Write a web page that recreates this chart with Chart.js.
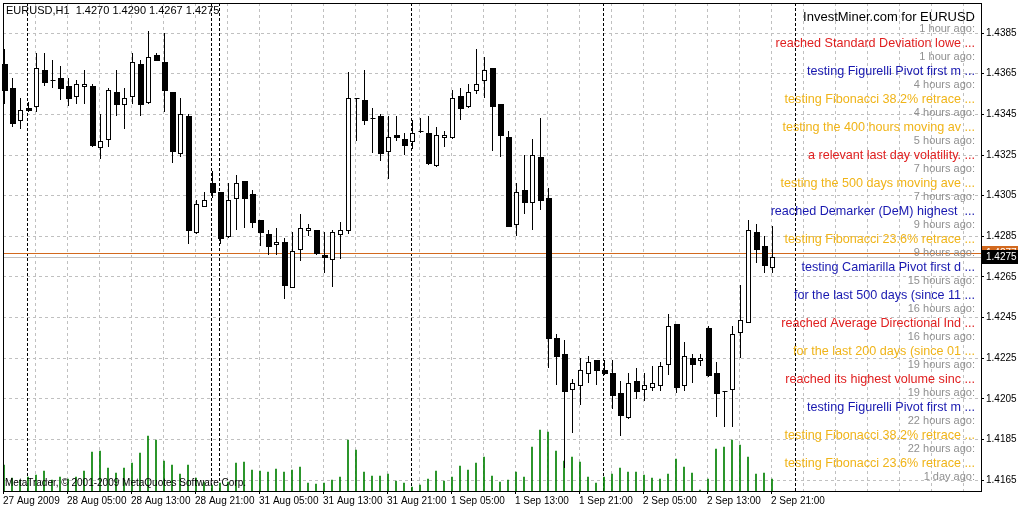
<!DOCTYPE html>
<html>
<head>
<meta charset="utf-8">
<script src="https://cdn.jsdelivr.net/npm/chart.js@4"></script>
<style>
  html, body { margin: 0; padding: 0; background: #fff; }
  #wrap { width: 1018px; height: 508px; }
</style>
</head>
<body>
<div id="wrap"><canvas id="chart"></canvas></div>
<script>
// EURUSD H1, 97 bars starting 27 Aug 2009 21:00
const opens  = [1.4370,1.4358,1.4342,1.4348,1.4349,1.4367,1.4362,1.4363,1.4359,1.4354,1.4359,1.4359,1.4329,1.4333,1.4356,1.4350,1.4354,1.4370,1.4351,1.4374,1.4371,1.4356,1.4326,1.4344,1.4287,1.4300,1.4311,1.4307,1.4285,1.4304,1.4312,1.4306,1.4293,1.4286,1.4281,1.4282,1.4260,1.4279,1.4288,1.4288,1.4276,1.4274,1.4286,1.4288,1.4353,1.4352,1.4343,1.4344,1.4327,1.4335,1.4333,1.4332,1.4337,1.4336,1.4320,1.4334,1.4334,1.4354,1.4349,1.4357,1.4362,1.4368,1.4350,1.4334,1.4291,1.4308,1.4302,1.4324,1.4304,1.4235,1.4227,1.4210,1.4212,1.4218,1.4224,1.4219,1.4218,1.4208,1.4196,1.4214,1.4210,1.4211,1.4212,1.4222,1.4242,1.4212,1.4225,1.4224,1.4240,1.4218,1.4209,1.4210,1.4238,1.4243,1.4287,1.4280,1.4270];
const highs  = [1.4377,1.4363,1.4353,1.4351,1.4375,1.4375,1.4372,1.4369,1.4363,1.4362,1.4367,1.4360,1.4345,1.4358,1.4367,1.4358,1.4375,1.4372,1.4386,1.4375,1.4385,1.4356,1.4353,1.4345,1.4303,1.4307,1.4317,1.4307,1.4311,1.4315,1.4312,1.4308,1.4293,1.4288,1.4289,1.4284,1.4287,1.4296,1.4291,1.4288,1.4287,1.4288,1.4292,1.4366,1.4353,1.4367,1.4348,1.4345,1.4344,1.4344,1.4336,1.4342,1.4343,1.4344,1.4339,1.4337,1.4357,1.4358,1.4360,1.4377,1.4373,1.4368,1.4350,1.4337,1.4311,1.4325,1.4333,1.4343,1.4309,1.4237,1.4234,1.4215,1.4225,1.4226,1.4224,1.4224,1.4224,1.4214,1.4218,1.4220,1.4218,1.4221,1.4223,1.4247,1.4242,1.4233,1.4227,1.4227,1.4241,1.4223,1.4209,1.4241,1.4261,1.4293,1.4291,1.4285,1.4290];
const lows   = [1.4350,1.4339,1.4338,1.4346,1.4346,1.4359,1.4358,1.4352,1.4349,1.4350,1.4350,1.4329,1.4323,1.4329,1.4344,1.4338,1.4350,1.4344,1.4350,1.4372,1.4346,1.4321,1.4324,1.4281,1.4286,1.4300,1.4304,1.4281,1.4284,1.4288,1.4289,1.4289,1.4280,1.4276,1.4276,1.4254,1.4260,1.4273,1.4285,1.4276,1.4267,1.4260,1.4274,1.4286,1.4332,1.4340,1.4326,1.4322,1.4313,1.4332,1.4325,1.4328,1.4336,1.4320,1.4319,1.4329,1.4333,1.4342,1.4348,1.4355,1.4353,1.4327,1.4324,1.4290,1.4285,1.4296,1.4288,1.4298,1.4220,1.4212,1.4171,1.4188,1.4202,1.4213,1.4212,1.4217,1.4200,1.4187,1.4195,1.4205,1.4204,1.4209,1.4209,1.4217,1.4208,1.4209,1.4213,1.4221,1.4216,1.4196,1.4191,1.4191,1.4225,1.4243,1.4272,1.4267,1.4267];
const closes = [1.4357,1.4341,1.4347,1.4347,1.4368,1.4361,1.4362,1.4358,1.4353,1.4360,1.4360,1.4330,1.4332,1.4357,1.4350,1.4353,1.4371,1.4350,1.4373,1.4372,1.4357,1.4327,1.4345,1.4288,1.4301,1.4303,1.4307,1.4284,1.4303,1.4311,1.4304,1.4292,1.4287,1.4280,1.4282,1.4261,1.4278,1.4289,1.4289,1.4277,1.4275,1.4287,1.4288,1.4353,1.4353,1.4342,1.4343,1.4326,1.4334,1.4334,1.4330,1.4336,1.4337,1.4321,1.4335,1.4335,1.4353,1.4348,1.4356,1.4360,1.4367,1.4349,1.4335,1.4290,1.4307,1.4302,1.4325,1.4303,1.4235,1.4226,1.4209,1.4213,1.4219,1.4223,1.4219,1.4218,1.4207,1.4197,1.4213,1.4209,1.4212,1.4213,1.4221,1.4241,1.4211,1.4226,1.4222,1.4225,1.4217,1.4208,1.4209,1.4237,1.4244,1.4288,1.4279,1.4271,1.4275];
const volumes = [260,130,110,140,160,200,110,140,120,140,200,390,400,230,180,230,280,380,550,510,300,260,170,260,130,90,60,80,90,280,290,210,200,190,220,190,210,240,80,70,80,110,140,510,410,190,150,150,170,
                 100,80,40,60,120,200,100,140,250,210,280,340,150,90,110,190,140,440,610,590,400,300,340,290,140,80,140,170,230,190,190,160,130,120,170,320,240,180,10,120,420,440,510,460,340,170,180,120];
const timeLabels = {0:'27 Aug 2009',8:'28 Aug 05:00',16:'28 Aug 13:00',24:'28 Aug 21:00',32:'31 Aug 05:00',40:'31 Aug 13:00',48:'31 Aug 21:00',56:'1 Sep 05:00',64:'1 Sep 13:00',72:'1 Sep 21:00',80:'2 Sep 05:00',88:'2 Sep 13:00',96:'2 Sep 21:00'};
const daySeparators = [3, 26, 27, 51, 75, 99];
const priceTicks = [1.4165,1.4185,1.4205,1.4225,1.4245,1.4265,1.4285,1.4305,1.4325,1.4345,1.4365,1.4385];
const askPrice = 1.4277;
const bidPrice = 1.4275;

const newsAgo = ['1 hour ago:','1 hour ago:','4 hours ago:','4 hours ago:','5 hours ago:','7 hours ago:','7 hours ago:','9 hours ago:','9 hours ago:','15 hours ago:','16 hours ago:','16 hours ago:','19 hours ago:','19 hours ago:','22 hours ago:','22 hours ago:','1 day ago:'];
const newsText = ['reached Standard Deviation lowe ...','testing Figurelli Pivot first m ...','testing Fibonacci 38.2% retrace ...','testing the 400 hours moving av ...','a relevant last day volatility. ...','testing the 500 days moving ave ...','reached Demarker (DeM) highest  ...','testing Fibonacci 23.6% retrace ...','testing Camarilla Pivot first d ...','for the last 500 days (since 11 ...','reached Average Directional Ind ...','for the last 200 days (since 01 ...','reached its highest volume sinc ...','testing Figurelli Pivot first m ...','testing Fibonacci 38.2% retrace ...','testing Fibonacci 23.6% retrace ...','a possible market cycle when ...'];
const newsKind = ['red','blue','gold','gold','red','gold','blue','gold','blue','blue','red','gold','red','blue','gold','gold','gold'];
const kindColor = { red: '#e02020', blue: '#1818b0', gold: '#f0b418' };

// candles, separators, frame, price lines
const candlePlugin = {
    id: 'candles',
    beforeDatasetsDraw(chart) {
        const { ctx, chartArea: a, scales: { x, y } } = chart;
        ctx.save();
        ctx.beginPath();
        ctx.rect(a.left, a.top, a.right - a.left, a.bottom - a.top);
        ctx.clip();
        // day separators
        ctx.strokeStyle = '#000';
        ctx.lineWidth = 1;
        ctx.setLineDash([3, 2]);
        daySeparators.forEach(n => {
            const px = Math.round(x.getPixelForValue(n - 0.125)) + 0.5;
            ctx.beginPath(); ctx.moveTo(px, a.top); ctx.lineTo(px, a.bottom); ctx.stroke();
        });
        ctx.setLineDash([]);
        // price lines
        const ay = Math.round(y.getPixelForValue(askPrice)) + 0.5;
        ctx.strokeStyle = '#d2691e';
        ctx.beginPath(); ctx.moveTo(a.left, ay); ctx.lineTo(a.right, ay); ctx.stroke();
        const by = Math.round(y.getPixelForValue(bidPrice)) + 0.5;
        ctx.strokeStyle = '#c0c0c0';
        ctx.beginPath(); ctx.moveTo(a.left, by); ctx.lineTo(a.right, by); ctx.stroke();
        ctx.restore();
    },
    afterDatasetsDraw(chart) {
        const { ctx, chartArea: a, scales: { x, y } } = chart;
        ctx.save();
        ctx.lineWidth = 1;
        ctx.strokeStyle = '#000';
        for (let i = 0; i < opens.length; i++) {
            const cx = Math.round(x.getPixelForValue(i)) + 0.5;
            const yh = Math.round(y.getPixelForValue(highs[i]));
            const yl = Math.round(y.getPixelForValue(lows[i]));
            const yo = Math.round(y.getPixelForValue(opens[i]));
            const yc = Math.round(y.getPixelForValue(closes[i]));
            ctx.beginPath(); ctx.moveTo(cx, yh); ctx.lineTo(cx, yl); ctx.stroke();
            const top = Math.min(yo, yc), bot = Math.max(yo, yc);
            if (bot - top < 1) {
                ctx.beginPath(); ctx.moveTo(cx - 2, top + 0.5); ctx.lineTo(cx + 3, top + 0.5); ctx.stroke();
            } else if (closes[i] >= opens[i]) {
                ctx.fillStyle = '#fff';
                ctx.fillRect(cx - 2, top + 0.5, 4, bot - top);
                ctx.strokeRect(cx - 2, top + 0.5, 4, bot - top);
            } else {
                ctx.fillStyle = '#000';
                ctx.fillRect(cx - 2.5, top, 6, bot - top + 1);
            }
        }
        // frame
        ctx.strokeStyle = '#000';
        ctx.strokeRect(a.left + 0.5, a.top + 0.5, a.right - a.left, a.bottom - a.top);

        // price labels on axis
        const drawTag = (price, bg, fg) => {
            const py = Math.round(y.getPixelForValue(price));
            ctx.fillStyle = bg;
            ctx.fillRect(a.right + 1, py - 7, 36, 14);
            ctx.fillStyle = fg;
            ctx.font = '10px "Liberation Sans"';
            ctx.textBaseline = 'middle';
            ctx.textAlign = 'left';
            ctx.fillText(price.toFixed(4), a.right + 5, py);
        };
        drawTag(askPrice, '#d2691e', '#fff');
        drawTag(bidPrice, '#000', '#fff');

        // header texts
        ctx.fillStyle = '#000';
        ctx.font = '11px "Liberation Sans"';
        ctx.textAlign = 'left';
        ctx.fillText('EURUSD,H1  1.4270 1.4290 1.4267 1.4275', 6, 11);
        ctx.font = '10px "Liberation Sans"';
        ctx.fillText('MetaTrader, \u00a9 2001-2009 MetaQuotes Software Corp.', 5, 483);

        // news panel
        ctx.textAlign = 'right';
        ctx.font = '13px "Liberation Sans"';
        ctx.fillText('InvestMiner.com for EURUSD', 975, 17);
        for (let i = 0; i < newsText.length; i++) {
            const yAgo = 29 + 28 * i, yMsg = 44 + 28 * i;
            if (yAgo > a.bottom) break;
            ctx.font = '11px "Liberation Sans"';
            ctx.fillStyle = '#909090';
            ctx.fillText(newsAgo[i], 975, yAgo);
            if (yMsg > a.bottom - 2) continue;
            ctx.font = '12.6px "Liberation Sans"';
            ctx.fillStyle = kindColor[newsKind[i]];
            ctx.fillText(newsText[i], 975, yMsg);
        }
        ctx.restore();
    }
};

new Chart(document.getElementById('chart'), {
    type: 'bar',
    data: {
        datasets: [{
            data: volumes.map((v, i) => ({ x: i, y: v })),
            backgroundColor: '#008000',
            barThickness: 1,
            yAxisID: 'yv'
        }]
    },
    options: {
        responsive: true,
        maintainAspectRatio: false,
        animation: false,
        events: [],
        layout: { padding: { left: 3, top: 3, right: 0, bottom: 0 } },
        plugins: { legend: { display: false }, tooltip: { enabled: false } },
        scales: {
            x: {
                type: 'linear',
                offset: false,
                min: -0.125,
                max: 122.125,
                afterBuildTicks: s => { s.ticks = []; for (let n = 0; n <= 120; n += 4) s.ticks.push({ value: n - 0.125 }); },
                afterFit: s => { s.height = 17; s.paddingLeft = 0; s.paddingRight = 0; },
                ticks: {
                    autoSkip: false, maxRotation: 0, align: 'start', padding: 1,
                    color: '#000', font: { family: 'Liberation Sans', size: 10 },
                    callback: v => timeLabels[Math.round(v)] || ''
                },
                grid: {
                    offset: false,
                    color: '#c0c0c0', tickLength: 3,
                    tickColor: c => (c.tick && timeLabels[Math.round(c.tick.value)] !== undefined) ? '#000' : 'rgba(0,0,0,0)'
                },
                border: { display: true, color: '#000', dash: [3, 3] }
            },
            y: {
                position: 'right',
                min: 1.41597,
                max: 1.43998,
                afterBuildTicks: s => { s.ticks = priceTicks.map(v => ({ value: v })); },
                afterFit: s => { s.width = 37; s.paddingTop = 0; s.paddingBottom = 0; },
                ticks: { color: '#000', padding: 2, font: { family: 'Liberation Sans', size: 10 }, callback: v => v.toFixed(4) },
                grid: { color: '#c0c0c0', tickLength: 3, tickColor: '#000' },
                border: { display: true, color: '#000', dash: [3, 3] }
            },
            yv: { display: false, min: 0, max: 4880 }
        }
    },
    plugins: [candlePlugin]
});
</script>
</body>
</html>
